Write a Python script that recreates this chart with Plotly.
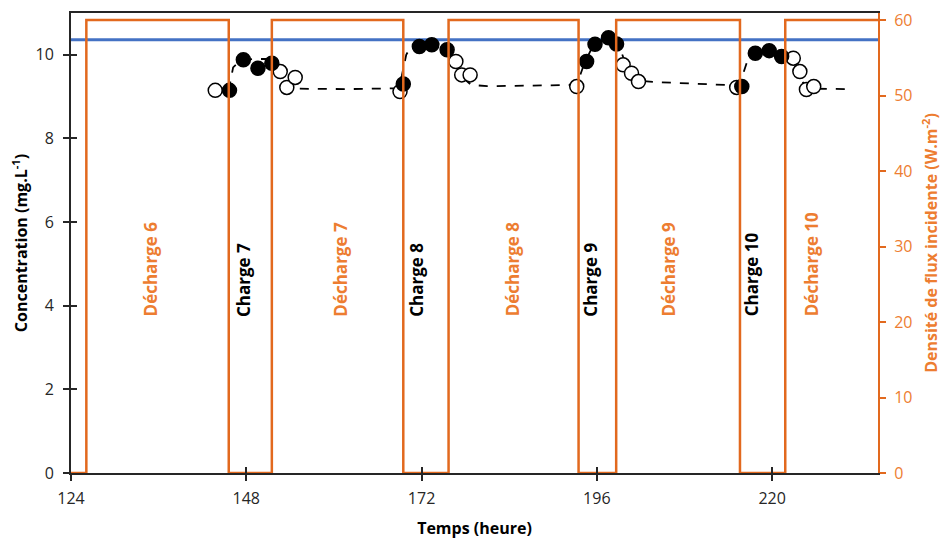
import plotly.graph_objects as go

# ---- data ----
flux_edges = [124, 126.1, 145.6, 151.5, 169.5, 175.7, 193.5, 198.65, 215.6, 221.8, 234.5]
flux_values = [0, 60, 0, 60, 0, 60, 0, 60, 0, 60, 60]

sat_level = 10.36
x_span = [124, 234.5]

charge_t = [145.7, 147.6, 149.6, 151.5, 169.5, 171.7, 173.4, 175.5, 194.6, 195.75, 197.6, 198.7,
            215.85, 217.7, 219.6, 221.3]
charge_c = [9.15, 9.88, 9.68, 9.80, 9.30, 10.20, 10.24, 10.12, 9.84, 10.25, 10.41, 10.26,
            9.24, 10.04, 10.10, 9.96]

decharge_t = [143.75, 152.65, 153.55, 154.7, 169.05, 176.7, 177.5, 178.65, 193.25, 199.6, 200.75,
              201.7, 215.15, 222.9, 223.8, 224.7, 225.7]
decharge_c = [9.15, 9.60, 9.22, 9.46, 9.12, 9.84, 9.52, 9.52, 9.24, 9.76, 9.56, 9.36, 9.22,
              9.92, 9.60, 9.17, 9.24]

model_t = [145.6, 146.2, 147.2, 149, 151, 152, 152.8, 153.7, 155, 162, 168.7, 169.3, 169.9, 170.6,
           172.5, 174.5, 175.8, 176.7, 177.7, 178.8, 181, 193, 193.6, 194.3, 195.2, 196.3, 197.6,
           198.8, 199.6, 200.8, 202, 204, 215, 215.8, 216.6, 217.7, 219.8, 221.5, 222.6, 223.6,
           224.5, 225.8, 230.3]
model_c = [9.15, 9.7, 9.86, 9.9, 9.9, 9.8, 9.5, 9.25, 9.19, 9.18, 9.2, 9.5, 10.0, 10.22,
           10.27, 10.27, 10.2, 9.85, 9.45, 9.28, 9.25, 9.28, 9.45, 9.8, 10.12, 10.32, 10.4,
           10.32, 9.95, 9.55, 9.38, 9.35, 9.27, 9.42, 9.85, 10.08, 10.13, 10.12, 9.95, 9.55,
           9.25, 9.19, 9.18]

phase_labels = ["Décharge 6", "Charge 7", "Décharge 7", "Charge 8", "Décharge 8", "Charge 9",
                "Décharge 9", "Charge 10", "Décharge 10"]
phase_label_t = [134.85, 147.6, 160.9, 171.4, 184.4, 195.2, 205.8, 217.2, 225.4]

x_ticks = [124, 148, 172, 196, 220]

ORANGE_LINE = "#E2691E"
ORANGE_TXT = "#ED7D31"
BLUE = "#4472C4"
FONT = "Open Sans"

fig = go.Figure()

fig.add_trace(go.Scatter(x=x_span, y=[sat_level, sat_level], mode="lines",
                         line=dict(color=BLUE, width=3), xaxis="x", yaxis="y",
                         showlegend=False, hoverinfo="skip"))

fig.add_trace(go.Scatter(x=flux_edges, y=flux_values, mode="lines", line_shape="hv",
                         line=dict(color=ORANGE_LINE, width=2.5), xaxis="x", yaxis="y2",
                         showlegend=False))

fig.add_trace(go.Scatter(x=model_t, y=model_c, mode="lines",
                         line=dict(color="black", width=1.8, dash="dash"),
                         xaxis="x", yaxis="y", showlegend=False))

fig.add_trace(go.Scatter(x=decharge_t, y=decharge_c, mode="markers",
                         marker=dict(symbol="circle", size=14, color="white",
                                     line=dict(color="black", width=1.5)),
                         xaxis="x", yaxis="y", showlegend=False))

fig.add_trace(go.Scatter(x=charge_t, y=charge_c, mode="markers",
                         marker=dict(symbol="circle", size=14, color="black",
                                     line=dict(color="black", width=1.5)),
                         xaxis="x", yaxis="y", showlegend=False))

# dummy trace for inner tick overlay axes
fig.add_trace(go.Scatter(x=[None], y=[None], xaxis="x2", yaxis="y3", showlegend=False,
                         hoverinfo="skip"))

for lab, t in zip(phase_labels, phase_label_t):
    is_dis = lab.startswith("D")
    fig.add_annotation(x=t, y=3.69, xref="x", yref="y", text="<b>" + lab + "</b>",
                       showarrow=False, textangle=-90, xanchor="center", yanchor="bottom",
                       font=dict(family=FONT, size=17,
                                 color=ORANGE_TXT if is_dis else "black"))

# page body adds an 8px margin, so the figure is sized to fit the 948x539 window
fig.update_layout(
    width=940, height=531,
    margin=dict(l=63, r=70, t=5, b=66),
    paper_bgcolor="white", plot_bgcolor="white",
    font=dict(family=FONT, size=16, color="#262626"),
    xaxis=dict(range=x_span, tickvals=x_ticks, showgrid=False, zeroline=False,
               automargin=False, ticklabelstandoff=4,
               showline=True, linecolor="#262626", linewidth=2, mirror=True,
               ticks="outside", ticklen=6, tickwidth=2, tickcolor="#262626",
               title=dict(text="<b>Temps (heure)</b>", font=dict(size=16, color="black"),
                          standoff=18)),
    yaxis=dict(range=[0, 11], dtick=2, showgrid=False, zeroline=False, automargin=False,
               ticklabelstandoff=6,
               showline=True, linecolor="#262626", linewidth=2,
               ticks="outside", ticklen=6, tickwidth=2, tickcolor="#262626",
               title=dict(text="<b>Concentration (mg.L<sup>-1</sup>)</b>",
                          font=dict(size=16, color="black"), standoff=6)),
    yaxis2=dict(range=[0, 60.93], dtick=10, overlaying="y", side="right", showgrid=False,
                automargin=False, ticklabelstandoff=5,
                zeroline=False, showline=True, linecolor=ORANGE_LINE, linewidth=2,
                ticks="outside", ticklen=6, tickwidth=2, tickcolor=ORANGE_LINE,
                tickfont=dict(color=ORANGE_TXT, size=16),
                title=dict(text="<b>Densité de flux incidente (W.m<sup>-2</sup>)</b>",
                           font=dict(size=16, color=ORANGE_TXT), standoff=14)),
    xaxis2=dict(range=x_span, tickvals=x_ticks, overlaying="x", side="bottom",
                automargin=False,
                showgrid=False, zeroline=False, showline=False, showticklabels=False,
                ticks="inside", ticklen=6, tickwidth=2, tickcolor="#262626"),
    yaxis3=dict(range=[0, 11], dtick=2, overlaying="y", side="left", showgrid=False,
                automargin=False,
                zeroline=False, showline=False, showticklabels=False,
                ticks="inside", ticklen=6, tickwidth=2, tickcolor="#262626"),
)

fig.write_html("out.html")
